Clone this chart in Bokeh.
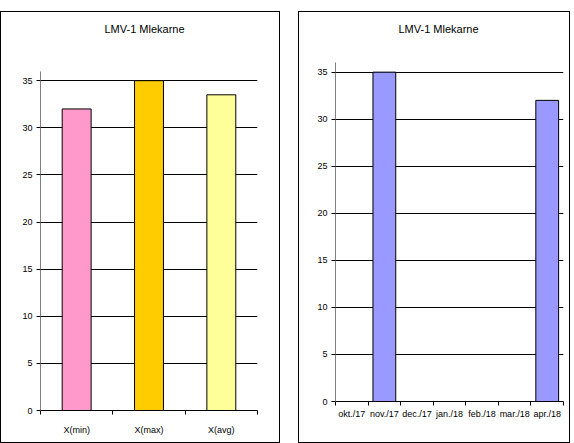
from bokeh.plotting import figure
from bokeh.layouts import row, column
from bokeh.models import FixedTicker, Range1d
from bokeh.embed import file_html
from bokeh.resources import INLINE

title_text = "LMV-1 Mlekarne"

# Left chart
stat_labels = ["X(min)", "X(max)", "X(avg)"]
stat_values = [32, 35, 33.5]
stat_colors = ["#FF99CC", "#FFCC00", "#FFFF99"]

# Right chart
month_labels = ["okt./17", "nov./17", "dec./17", "jan./18", "feb./18", "mar./18", "apr./18"]
month_values = [float("nan"), 35, float("nan"), float("nan"), float("nan"), float("nan"), 32]
month_color = "#9999FF"

y_ticks = [0, 5, 10, 15, 20, 25, 30, 35]
y_axis_top = 36

FONT = "Liberation Sans"


def make_chart(labels, values, colors, bar_width, width, height, borders,
               view_max, title_offset, xlabel_standoff):
    n = len(labels)
    xs = list(range(n))
    p = figure(width=width, height=height,
               x_range=Range1d(-0.5, n - 0.5), y_range=Range1d(0, view_max),
               output_backend="svg", toolbar_location=None, title=title_text)
    p.min_border_left, p.min_border_right, p.min_border_top, p.min_border_bottom = borders
    p.vbar(x=xs, top=values, width=bar_width, bottom=0,
           fill_color=colors, line_color="black", line_width=1)

    p.title.text_font = FONT
    p.title.text_font_size = "11px"
    p.title.text_font_style = "normal"
    p.title.text_color = "black"
    p.title.align = "left"
    p.title.offset = title_offset
    p.title.standoff = 0

    boundaries = [i - 0.5 for i in range(n + 1)]
    p.xaxis.ticker = FixedTicker(ticks=xs, minor_ticks=boundaries)
    p.xaxis.major_label_overrides = {i: lab for i, lab in enumerate(labels)}
    p.xaxis.major_tick_line_color = None
    p.xaxis.minor_tick_line_color = "black"
    p.xaxis.minor_tick_out = 4
    p.xaxis.minor_tick_in = 0
    p.xaxis.axis_line_color = "black"
    p.xaxis.major_label_text_font = FONT
    p.xaxis.major_label_text_font_size = "9px"
    p.xaxis.major_label_text_color = "black"
    p.xaxis.major_label_standoff = xlabel_standoff

    p.yaxis.ticker = FixedTicker(ticks=y_ticks)
    p.yaxis.bounds = (0, y_axis_top)
    p.yaxis.minor_tick_line_color = None
    p.yaxis.major_tick_out = 4
    p.yaxis.major_tick_in = 0
    p.yaxis.major_tick_line_color = "black"
    p.yaxis.axis_line_color = "#808080"
    p.yaxis.major_label_text_font = FONT
    p.yaxis.major_label_text_font_size = "9px"
    p.yaxis.major_label_text_color = "black"
    p.yaxis.major_label_standoff = 4

    p.xgrid.visible = False
    p.ygrid.ticker = FixedTicker(ticks=y_ticks)
    p.ygrid.grid_line_color = "black"
    p.ygrid.grid_line_width = 1
    p.outline_line_color = None
    p.background_fill_color = "white"
    p.border_fill_color = "white"
    p.styles = {"border": "1px solid black", "box-sizing": "border-box"}
    return p


p1 = make_chart(stat_labels, stat_values, stat_colors, 0.4, 280, 432,
                (39, 24, 22, 34), 39.9, 64, 8)
p2 = make_chart(month_labels, month_values, month_color, 0.7, 272, 432,
                (36, 8, 22, 43), 39.0, 63, 1)

layout = row(column(p1), column(p2), spacing=18)
layout.margin = (11, 0, 0, 0)

open("out.html", "w").write(file_html(layout, INLINE))
